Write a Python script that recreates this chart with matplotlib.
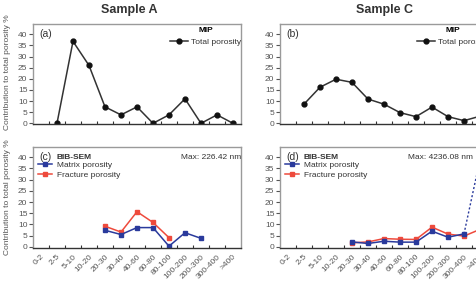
import numpy as np
import matplotlib
matplotlib.use('Agg')
import matplotlib.pyplot as plt

plt.rcParams['font.family'] = ['Liberation Sans', 'DejaVu Sans']

# Clases de tamaño de poro (nm)
categorias = ['0-2', '2-5', '5-10', '10-20', '20-30', '30-40', '40-60', '60-80',
              '80-100', '100-200', '200-300', '300-400', '>400']

# MIP, porosidad total (desde la clase 2-5 en adelante)
mip_a = [0, 36.8, 26, 7.4, 3.8, 7.4, 0, 3.8, 11, 0, 3.8, 0]
mip_c = [8.6, 16.2, 19.8, 18.4, 10.9, 8.6, 4.8, 3, 7.3, 3, 1.2, 3.2]

# BIB-SEM (desde la clase 20-30)
matriz_a = [7.4, 5.5, 8.6, 8.6, 0.3, 6.3, 3.8]
fractura_a = [9.2, 6.6, 15.7, 10.9, 4.1]
matriz_c = [2.2, 1.5, 2.5, 2.1, 2.1, 7.0, 4.3, 5.8]
matriz_c_max = 39   # >400, linea punteada
fractura_c = [1.8, 2.2, 3.7, 3.4, 3.3, 8.8, 5.7, 4.8, 7.8]

AZUL = '#2a3a9c'
ROJO = '#ee4a3c'
GRIS = '#555555'

x = np.arange(len(categorias))


def preparar_eje(ax, etiquetas):
    ax.set_xlim(-0.5, len(categorias) - 0.5)
    ax.set_ylim(-0.3, 44.6)
    ax.set_yticks(range(0, 41, 5))
    ax.tick_params(axis='y', direction='out', length=3, width=0.8, labelsize=6,
                   labelcolor=GRIS, color=GRIS, pad=1)
    ax.set_xticks(x[:-1] + 0.5)
    ax.set_xticks(x, minor=True)
    ax.tick_params(axis='x', which='major', direction='in', length=2.5, width=0.8,
                   color='#333333', labelbottom=False)
    ax.tick_params(axis='x', which='minor', length=0)
    if etiquetas:
        ax.set_xticklabels(categorias, minor=True, rotation=45, ha='right',
                           va='top', rotation_mode='anchor', fontsize=6, color=GRIS)
        ax.tick_params(axis='x', which='minor', pad=4)
    for lado in ['top', 'right', 'left']:
        ax.spines[lado].set_color('#9a9a9a')
        ax.spines[lado].set_linewidth(1)
    ax.spines['bottom'].set_color('#333333')
    ax.spines['bottom'].set_linewidth(1)


def panel_mip(ax, valores, letra):
    preparar_eje(ax, False)
    ax.plot(x[1:1 + len(valores)], valores, color='#333333', lw=1.1, marker='o',
            ms=3.5, mfc='#111111', mec='#111111', label='Total porosity', clip_on=True)
    ax.text(0.03, 0.95, letra, transform=ax.transAxes, fontsize=7.5,
            color='#333333', va='top', ha='left')
    ley = ax.legend(loc='upper right', bbox_to_anchor=(1.0, 0.97), frameon=False,
                    fontsize=6, title='MIP', borderpad=0, borderaxespad=0,
                    handlelength=2.2, handletextpad=0.3,
                    title_fontproperties={'weight': 'bold', 'size': 6})
    for t in ley.get_texts():
        t.set_color('#333333')


def panel_bib(ax, matriz, fractura, maximo, letra, x_max, extra=None):
    preparar_eje(ax, True)
    ax.plot(x[4:4 + len(fractura)], fractura, color=ROJO, lw=1.1, marker='s',
            ms=2.8, label='Fracture porosity')
    ax.plot(x[4:4 + len(matriz)], matriz, color=AZUL, lw=1.1, marker='s',
            ms=2.8, label='Matrix porosity')
    if extra is not None:
        i = 4 + len(matriz) - 1
        ax.plot([x[i], x[i + 1]], [matriz[-1], extra], color=AZUL, lw=1,
                ls=(0, (1.5, 1.5)))
    ax.text(0.03, 0.95, letra, transform=ax.transAxes, fontsize=7.5,
            color='#333333', va='top', ha='left')
    ax.text(0.115, 0.935, 'BIB-SEM', transform=ax.transAxes, fontsize=6,
            fontweight='bold', color='#333333', va='top', ha='left')
    # posición en píxeles de la figura (el panel derecho sale del recorte)
    y_txt = ax.get_position().y1 - 7 / 282
    fig.text(x_max / 476, y_txt, maximo, fontsize=6, color='#333333',
             va='top', ha='right')
    h, l = ax.get_legend_handles_labels()
    ley = ax.legend(h[::-1], l[::-1], loc='upper left', bbox_to_anchor=(0.025, 0.86),
                    frameon=False, fontsize=6, borderpad=0, borderaxespad=0,
                    handlelength=1.6, handletextpad=0.6, labelspacing=0.25)
    for t in ley.get_texts():
        t.set_color('#333333')


fig = plt.figure(figsize=(4.76, 2.82), dpi=100)
ax_a = fig.add_axes([0.0693, 0.5603, 0.437, 0.3546])
ax_b = fig.add_axes([0.5882, 0.5603, 0.437, 0.3546])
ax_c = fig.add_axes([0.0693, 0.1223, 0.437, 0.3564])
ax_d = fig.add_axes([0.5882, 0.1223, 0.437, 0.3564])

panel_mip(ax_a, mip_a, '(a)')
panel_mip(ax_b, mip_c, '(b)')
panel_bib(ax_c, matriz_a, fractura_a, 'Max: 226.42 nm', '(c)', 241)
panel_bib(ax_d, matriz_c, fractura_c, 'Max: 4236.08 nm', '(d)', 473, extra=matriz_c_max)

fig.text(129 / 476, 1 - 10 / 282, 'Sample A', fontsize=9, fontweight='bold',
         ha='center', va='center', color='#333333')
fig.text(384 / 476, 1 - 10 / 282, 'Sample C', fontsize=9, fontweight='bold',
         ha='center', va='center', color='#333333')
for yc in [1 - 72 / 282, 1 - 197 / 282]:
    fig.text(8 / 476, yc, 'Contribution to total porosity %', rotation=90,
             fontsize=6, ha='center', va='center', color=GRIS)

fig.savefig('out.png', dpi=100)
